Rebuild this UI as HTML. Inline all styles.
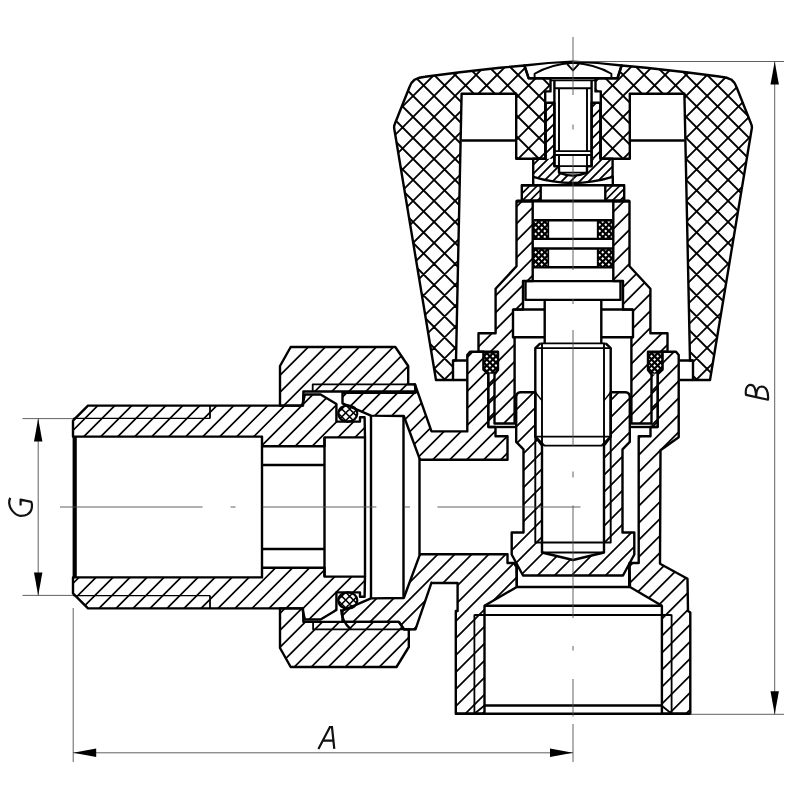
<!DOCTYPE html>
<html><head><meta charset="utf-8"><title>Valve drawing</title>
<style>html,body{margin:0;padding:0;background:#fff;}body{width:800px;height:800px;overflow:hidden;font-family:"Liberation Sans",sans-serif;}svg text{font-family:"Liberation Sans",sans-serif;font-style:italic;}</style></head>
<body>
<svg width="800" height="800" viewBox="0 0 800 800" style="display:block">
<defs>
<clipPath id="c1"><path d="M524.4,65.5 L500,67.8 L460,72.3 L425,76.8 Q419,77.4 414.5,79.8 Q411,82.5 409.5,87 L394.8,124 Q393.7,126.5 394.3,129 L436,380 L453,380 L453,360.5 L456,360.5 L461.6,93.7 L516.2,93.7 L516.2,158.8 L545.2,158.8 L545.2,91.4 L550.5,91.4 L550.5,78.3 L528.7,78.3 Z"/><path d="M524.4,65.5 L500,67.8 L460,72.3 L425,76.8 Q419,77.4 414.5,79.8 Q411,82.5 409.5,87 L394.8,124 Q393.7,126.5 394.3,129 L436,380 L453,380 L453,360.5 L456,360.5 L461.6,93.7 L516.2,93.7 L516.2,158.8 L545.2,158.8 L545.2,91.4 L550.5,91.4 L550.5,78.3 L528.7,78.3 Z" transform="translate(1146.00,0) scale(-1,1)"/></clipPath>
<clipPath id="c2"><path d="M545.7,103.8 L546.7,102.8 L554.4,102.8 L554.4,166.2 L559,166.2 L559,172.6 Q573,178.6 587,172.6 L587,166.2 L591.6,166.2 L591.6,102.8 L599.3,102.8 L600.3,103.8 L600.3,158.8 L612.6,158.8 L612.6,176.9 Q573,189.1 533.2,176.9 L533.2,158.8 L545.7,158.8 Z"/></clipPath>
<clipPath id="c3"><rect x="530.00" y="100.00" width="86.00" height="58.80"/></clipPath>
<clipPath id="c4"><path d="M545.7,103.8 L546.7,102.8 L554.4,102.8 L554.4,166.2 L559,166.2 L559,172.6 Q573,178.6 587,172.6 L587,166.2 L591.6,166.2 L591.6,102.8 L599.3,102.8 L600.3,103.8 L600.3,158.8 L612.6,158.8 L612.6,176.9 Q573,189.1 533.2,176.9 L533.2,158.8 L545.7,158.8 Z"/></clipPath>
<clipPath id="c5"><rect x="530.00" y="158.80" width="86.00" height="31.20"/></clipPath>
<clipPath id="c6"><path d="M521.80,185.20 L540.70,185.20 L540.70,200.80 L521.80,200.80 Z"/><path d="M521.80,185.20 L540.70,185.20 L540.70,200.80 L521.80,200.80 Z" transform="translate(1146.00,0) scale(-1,1)"/></clipPath>
<clipPath id="c7"><path d="M516.50,201.20 L516.50,266.20 L495.60,288.80 L495.60,333.30 L478.50,333.30 L478.50,351.80 L498.00,351.80 L498.00,370.00 L494.50,374.50 L494.50,423.50 L514.60,423.50 L514.60,338.00 L513.00,337.20 L513.00,309.60 L523.00,309.60 L523.00,281.00 L532.70,281.00 L532.70,201.20 Z"/><path d="M516.50,201.20 L516.50,266.20 L495.60,288.80 L495.60,333.30 L478.50,333.30 L478.50,351.80 L498.00,351.80 L498.00,370.00 L494.50,374.50 L494.50,423.50 L514.60,423.50 L514.60,338.00 L513.00,337.20 L513.00,309.60 L523.00,309.60 L523.00,281.00 L532.70,281.00 L532.70,201.20 Z" transform="translate(1146.00,0) scale(-1,1)"/></clipPath>
<clipPath id="c8"><path d="M488.30,374.50 L494.50,374.50 L494.50,427.00 L488.30,427.00 Z"/><path d="M488.30,374.50 L494.50,374.50 L494.50,427.00 L488.30,427.00 Z" transform="translate(1146.00,0) scale(-1,1)"/></clipPath>
<clipPath id="c9"><path d="M488.30,374.50 L494.50,374.50 L494.50,427.00 L488.30,427.00 Z"/><path d="M488.30,374.50 L494.50,374.50 L494.50,427.00 L488.30,427.00 Z" transform="translate(1146.00,0) scale(-1,1)"/></clipPath>
<clipPath id="c10"><path d="M484.2,353.4 L497.0,353.4 L497.0,369.0 L494.2,372.6 L488.6,372.6 L484.2,369.0 Z"/><path d="M484.2,353.4 L497.0,353.4 L497.0,369.0 L494.2,372.6 L488.6,372.6 L484.2,369.0 Z" transform="translate(1146.00,0) scale(-1,1)"/></clipPath>
<clipPath id="c11"><path d="M534.20,221.40 L547.40,221.40 L547.40,237.80 L534.20,237.80 Z"/><path d="M534.20,221.40 L547.40,221.40 L547.40,237.80 L534.20,237.80 Z" transform="translate(1146.00,0) scale(-1,1)"/></clipPath>
<clipPath id="c12"><path d="M534.20,249.80 L547.40,249.80 L547.40,266.20 L534.20,266.20 Z"/><path d="M534.20,249.80 L547.40,249.80 L547.40,266.20 L534.20,266.20 Z" transform="translate(1146.00,0) scale(-1,1)"/></clipPath>
<clipPath id="c13"><path d="M535.3,392.2 L520.5,392.2 Q516.2,392.6 516.2,397 L516.2,441.9 L523.5,449.4 L523.5,532.5 L511.7,532.5 L511.7,554.5 L523,575.5 L623,575.5 L634.3,554.5 L634.3,532.5 L622.5,532.5 L622.5,449.4 L629.8,441.9 L629.8,397 Q629.8,392.6 625.5,392.2 L610.7,392.2 L610.7,436.6 L604,445.6 L604,552.5 L573,560 L542,552.5 L542,445.6 L535.3,436.6 Z"/></clipPath>
<clipPath id="c14"><path d="M342.50,392.70 L415.50,392.70 L415.00,384.40 L431.50,431.40 L467.30,431.40 L467.30,355.00 L470.00,351.80 L483.40,351.80 L483.40,369.50 L488.30,374.00 L488.30,427.00 L495.50,427.00 L495.50,436.20 L507.50,436.20 L507.50,459.80 L420.50,459.80 L419.50,458.40 L403.80,416.00 L371.00,415.60 L342.50,403.30 Z"/></clipPath>
<clipPath id="c15"><path d="M419.50,555.60 L420.50,554.20 L507.50,554.20 L507.50,563.00 L514.00,563.00 L516.50,567.00 L516.80,587.00 L484.50,605.80 L484.50,713.80 L455.80,713.80 L455.80,611.00 L457.60,611.00 L457.60,583.00 L432.00,583.00 L431.50,582.60 L415.50,629.40 L404.10,629.40 L398.90,621.85 L342.50,621.85 L342.50,610.70 L371.00,598.40 L403.80,598.00 Z"/></clipPath>
<clipPath id="c16"><path d="M661.90,713.80 L661.90,605.80 L630.00,587.00 L629.50,563.00 L638.70,563.00 L638.70,436.20 L650.50,436.20 L650.50,427.00 L657.70,427.00 L657.70,374.00 L662.60,369.50 L662.60,351.80 L676.00,351.80 L678.70,355.00 L678.70,437.30 L660.50,450.30 L660.00,563.70 L687.50,578.70 L688.00,611.00 L690.30,612.50 L690.30,713.80 Z"/></clipPath>
<clipPath id="c17"><path d="M280.00,405.60 L280.00,366.00 L290.70,347.00 L395.30,347.00 L408.20,366.00 L408.20,384.40 L415.00,384.40 L415.50,391.50 L303.40,391.50 L303.00,405.60 Z"/></clipPath>
<clipPath id="c18"><path d="M280.00,608.40 L280.00,648.00 L290.70,667.00 L396.50,667.00 L408.80,647.00 L408.80,629.40 L404.10,629.40 L398.90,621.85 L303.40,621.85 L303.00,608.40 Z"/></clipPath>
<clipPath id="c19"><path d="M73.00,420.60 L88.00,405.60 L302.30,405.60 L304.90,394.50 L320.60,394.50 L336.40,404.00 L336.40,421.60 L360.00,421.60 L360.00,417.30 L364.60,417.30 L365.00,437.40 L324.50,437.40 L324.50,446.30 L262.00,446.30 L262.00,436.60 L73.00,436.60 Z"/><path d="M73.00,420.60 L88.00,405.60 L302.30,405.60 L304.90,394.50 L320.60,394.50 L336.40,404.00 L336.40,421.60 L360.00,421.60 L360.00,417.30 L364.60,417.30 L365.00,437.40 L324.50,437.40 L324.50,446.30 L262.00,446.30 L262.00,436.60 L73.00,436.60 Z" transform="translate(0,1014.00) scale(1,-1)"/></clipPath>
<clipPath id="c20"><path d="M338.3,413.5 a9.5,8.2 0 1,0 19,0 a9.5,8.2 0 1,0 -19,0 Z"/><path d="M338.3,413.5 a9.5,8.2 0 1,0 19,0 a9.5,8.2 0 1,0 -19,0 Z" transform="translate(0,1014.00) scale(1,-1)"/></clipPath>
</defs>
<rect width="800" height="800" fill="#fff"/>
<g clip-path="url(#c1)"><path d="M391.00,55.00 L755.00,-309.00 M391.00,76.00 L755.00,-288.00 M391.00,97.00 L755.00,-267.00 M391.00,118.00 L755.00,-246.00 M391.00,139.00 L755.00,-225.00 M391.00,160.00 L755.00,-204.00 M391.00,181.00 L755.00,-183.00 M391.00,202.00 L755.00,-162.00 M391.00,223.00 L755.00,-141.00 M391.00,244.00 L755.00,-120.00 M391.00,265.00 L755.00,-99.00 M391.00,286.00 L755.00,-78.00 M391.00,307.00 L755.00,-57.00 M391.00,328.00 L755.00,-36.00 M391.00,349.00 L755.00,-15.00 M391.00,370.00 L755.00,6.00 M391.00,391.00 L755.00,27.00 M391.00,412.00 L755.00,48.00 M391.00,433.00 L755.00,69.00 M391.00,454.00 L755.00,90.00 M391.00,475.00 L755.00,111.00 M391.00,496.00 L755.00,132.00 M391.00,517.00 L755.00,153.00 M391.00,538.00 L755.00,174.00 M391.00,559.00 L755.00,195.00 M391.00,580.00 L755.00,216.00 M391.00,601.00 L755.00,237.00 M391.00,622.00 L755.00,258.00 M391.00,643.00 L755.00,279.00 M391.00,664.00 L755.00,300.00 M391.00,685.00 L755.00,321.00 M391.00,706.00 L755.00,342.00 M391.00,727.00 L755.00,363.00 M391.00,748.00 L755.00,384.00 M391.00,388.80 L755.00,752.80 M391.00,367.80 L755.00,731.80 M391.00,346.80 L755.00,710.80 M391.00,325.80 L755.00,689.80 M391.00,304.80 L755.00,668.80 M391.00,283.80 L755.00,647.80 M391.00,262.80 L755.00,626.80 M391.00,241.80 L755.00,605.80 M391.00,220.80 L755.00,584.80 M391.00,199.80 L755.00,563.80 M391.00,178.80 L755.00,542.80 M391.00,157.80 L755.00,521.80 M391.00,136.80 L755.00,500.80 M391.00,115.80 L755.00,479.80 M391.00,94.80 L755.00,458.80 M391.00,73.80 L755.00,437.80 M391.00,52.80 L755.00,416.80 M391.00,31.80 L755.00,395.80 M391.00,10.80 L755.00,374.80 M391.00,-10.20 L755.00,353.80 M391.00,-31.20 L755.00,332.80 M391.00,-52.20 L755.00,311.80 M391.00,-73.20 L755.00,290.80 M391.00,-94.20 L755.00,269.80 M391.00,-115.20 L755.00,248.80 M391.00,-136.20 L755.00,227.80 M391.00,-157.20 L755.00,206.80 M391.00,-178.20 L755.00,185.80 M391.00,-199.20 L755.00,164.80 M391.00,-220.20 L755.00,143.80 M391.00,-241.20 L755.00,122.80 M391.00,-262.20 L755.00,101.80 M391.00,-283.20 L755.00,80.80 M391.00,-304.20 L755.00,59.80 M391.00,-325.20 L755.00,38.80" stroke="#000" stroke-width="1.90" fill="none"/></g>
<path d="M524.4,65.5 L500,67.8 L460,72.3 L425,76.8 Q419,77.4 414.5,79.8 Q411,82.5 409.5,87 L394.8,124 Q393.7,126.5 394.3,129 L436,380 L453,380 L453,360.5 L456,360.5 L461.6,93.7 L516.2,93.7 L516.2,158.8 L545.2,158.8 L545.2,91.4 L550.5,91.4 L550.5,78.3 L528.7,78.3 Z" fill="none" stroke="#000" stroke-width="2.40" stroke-linejoin="round"/>
<path d="M524.4,65.5 L500,67.8 L460,72.3 L425,76.8 Q419,77.4 414.5,79.8 Q411,82.5 409.5,87 L394.8,124 Q393.7,126.5 394.3,129 L436,380 L453,380 L453,360.5 L456,360.5 L461.6,93.7 L516.2,93.7 L516.2,158.8 L545.2,158.8 L545.2,91.4 L550.5,91.4 L550.5,78.3 L528.7,78.3 Z" transform="translate(1146.00,0) scale(-1,1)" fill="none" stroke="#000" stroke-width="2.40" stroke-linejoin="round"/>
<path d="M461.4,140.5 L516.2,140.5" fill="none" stroke="#000" stroke-width="2.40" stroke-linejoin="round" />
<path d="M461.4,140.5 L516.2,140.5" transform="translate(1146.00,0) scale(-1,1)" fill="none" stroke="#000" stroke-width="2.40" stroke-linejoin="round" />
<path d="M453,360.5 L466.5,360.5 M453,380 L466.5,380" fill="none" stroke="#000" stroke-width="2.40" stroke-linejoin="round" />
<path d="M453,360.5 L466.5,360.5 M453,380 L466.5,380" transform="translate(1146.00,0) scale(-1,1)" fill="none" stroke="#000" stroke-width="2.40" stroke-linejoin="round" />
<path d="M524.4,65.5 Q548,62.4 573,61.6 Q598,62.4 621.6,65.5 L617.7,78.3 L528.7,78.3 Z" fill="none" stroke="#000" stroke-width="2.40" stroke-linejoin="round" />
<path d="M534.6,78.2 L534.6,73.8 Q551,64.2 573,62.8 Q595,64.2 611.4,73.8 L611.4,78.2" fill="none" stroke="#000" stroke-width="1.90" stroke-linejoin="round" />
<path d="M567.2,64.2 L573,70.4 L578.8,64.2" fill="none" stroke="#000" stroke-width="1.90" stroke-linejoin="round" />
<path d="M550.6,80.4 L595.4,80.4" fill="none" stroke="#000" stroke-width="1.50" stroke-linejoin="round" />
<path d="M554.4,80.4 L554.4,166.2 M591.6,80.4 L591.6,166.2" fill="none" stroke="#000" stroke-width="2.40" stroke-linejoin="round" />
<path d="M554.4,88.3 L591.6,88.3 M559,88.3 L559,151 M587,88.3 L587,151" fill="none" stroke="#000" stroke-width="1.90" stroke-linejoin="round" />
<path d="M554.4,151.2 L591.6,151.2 M554.4,155 L591.6,155 M554.4,166.2 L591.6,166.2" fill="none" stroke="#000" stroke-width="1.80" stroke-linejoin="round" />
<path d="M559,155 L559,172.6 L587,172.6 L587,155" fill="none" stroke="#000" stroke-width="1.90" stroke-linejoin="round" />
<g clip-path="url(#c3)"><g clip-path="url(#c2)"><path d="M531.00,94.50 L615.00,10.50 M531.00,105.00 L615.00,21.00 M531.00,115.50 L615.00,31.50 M531.00,126.00 L615.00,42.00 M531.00,136.50 L615.00,52.50 M531.00,147.00 L615.00,63.00 M531.00,157.50 L615.00,73.50 M531.00,168.00 L615.00,84.00 M531.00,178.50 L615.00,94.50 M531.00,189.00 L615.00,105.00 M531.00,199.50 L615.00,115.50 M531.00,210.00 L615.00,126.00 M531.00,220.50 L615.00,136.50 M531.00,231.00 L615.00,147.00 M531.00,241.50 L615.00,157.50 M531.00,252.00 L615.00,168.00 M531.00,262.50 L615.00,178.50 M531.00,273.00 L615.00,189.00" stroke="#000" stroke-width="1.80" fill="none"/></g></g>
<g clip-path="url(#c5)"><g clip-path="url(#c4)"><path d="M531.00,95.00 L615.00,11.00 M531.00,104.00 L615.00,20.00 M531.00,113.00 L615.00,29.00 M531.00,122.00 L615.00,38.00 M531.00,131.00 L615.00,47.00 M531.00,140.00 L615.00,56.00 M531.00,149.00 L615.00,65.00 M531.00,158.00 L615.00,74.00 M531.00,167.00 L615.00,83.00 M531.00,176.00 L615.00,92.00 M531.00,185.00 L615.00,101.00 M531.00,194.00 L615.00,110.00 M531.00,203.00 L615.00,119.00 M531.00,212.00 L615.00,128.00 M531.00,221.00 L615.00,137.00 M531.00,230.00 L615.00,146.00 M531.00,239.00 L615.00,155.00 M531.00,248.00 L615.00,164.00 M531.00,257.00 L615.00,173.00 M531.00,266.00 L615.00,182.00 M531.00,275.00 L615.00,191.00" stroke="#000" stroke-width="1.80" fill="none"/></g></g>
<path d="M545.7,103.8 L546.7,102.8 L554.4,102.8 L554.4,166.2 L559,166.2 L559,172.6 Q573,178.6 587,172.6 L587,166.2 L591.6,166.2 L591.6,102.8 L599.3,102.8 L600.3,103.8 L600.3,158.8 L612.6,158.8 L612.6,176.9 Q573,189.1 533.2,176.9 L533.2,158.8 L545.7,158.8 Z" fill="none" stroke="#000" stroke-width="2.40" stroke-linejoin="round" />
<g clip-path="url(#c6)"><path d="M519.00,181.50 L627.00,73.50 M519.00,189.00 L627.00,81.00 M519.00,196.50 L627.00,88.50 M519.00,204.00 L627.00,96.00 M519.00,211.50 L627.00,103.50 M519.00,219.00 L627.00,111.00 M519.00,226.50 L627.00,118.50 M519.00,234.00 L627.00,126.00 M519.00,241.50 L627.00,133.50 M519.00,249.00 L627.00,141.00 M519.00,256.50 L627.00,148.50 M519.00,264.00 L627.00,156.00 M519.00,271.50 L627.00,163.50 M519.00,279.00 L627.00,171.00 M519.00,286.50 L627.00,178.50 M519.00,294.00 L627.00,186.00 M519.00,301.50 L627.00,193.50 M519.00,309.00 L627.00,201.00 M519.00,316.50 L627.00,208.50" stroke="#000" stroke-width="1.60" fill="none"/></g>
<path d="M521.80,185.20 L540.70,185.20 L540.70,200.80 L521.80,200.80 Z" fill="none" stroke="#000" stroke-width="2.40" stroke-linejoin="round"/>
<path d="M521.80,185.20 L540.70,185.20 L540.70,200.80 L521.80,200.80 Z" transform="translate(1146.00,0) scale(-1,1)" fill="none" stroke="#000" stroke-width="2.40" stroke-linejoin="round"/>
<path d="M521.8,185.2 L624.2,185.2 M533.2,176 L533.2,185.2 M612.8,176 L612.8,185.2" fill="none" stroke="#000" stroke-width="2.40" stroke-linejoin="round" />
<g clip-path="url(#c7)"><path d="M476.00,196.20 L670.00,2.20 M476.00,213.20 L670.00,19.20 M476.00,230.20 L670.00,36.20 M476.00,247.20 L670.00,53.20 M476.00,264.20 L670.00,70.20 M476.00,281.20 L670.00,87.20 M476.00,298.20 L670.00,104.20 M476.00,315.20 L670.00,121.20 M476.00,332.20 L670.00,138.20 M476.00,349.20 L670.00,155.20 M476.00,366.20 L670.00,172.20 M476.00,383.20 L670.00,189.20 M476.00,400.20 L670.00,206.20 M476.00,417.20 L670.00,223.20 M476.00,434.20 L670.00,240.20 M476.00,451.20 L670.00,257.20 M476.00,468.20 L670.00,274.20 M476.00,485.20 L670.00,291.20 M476.00,502.20 L670.00,308.20 M476.00,519.20 L670.00,325.20 M476.00,536.20 L670.00,342.20 M476.00,553.20 L670.00,359.20 M476.00,570.20 L670.00,376.20 M476.00,587.20 L670.00,393.20 M476.00,604.20 L670.00,410.20 M476.00,621.20 L670.00,427.20" stroke="#000" stroke-width="1.70" fill="none"/></g>
<path d="M516.50,201.20 L516.50,266.20 L495.60,288.80 L495.60,333.30 L478.50,333.30 L478.50,351.80 L498.00,351.80 L498.00,370.00 L494.50,374.50 L494.50,423.50 L514.60,423.50 L514.60,338.00 L513.00,337.20 L513.00,309.60 L523.00,309.60 L523.00,281.00 L532.70,281.00 L532.70,201.20 Z" fill="none" stroke="#000" stroke-width="2.40" stroke-linejoin="round"/>
<path d="M516.50,201.20 L516.50,266.20 L495.60,288.80 L495.60,333.30 L478.50,333.30 L478.50,351.80 L498.00,351.80 L498.00,370.00 L494.50,374.50 L494.50,423.50 L514.60,423.50 L514.60,338.00 L513.00,337.20 L513.00,309.60 L523.00,309.60 L523.00,281.00 L532.70,281.00 L532.70,201.20 Z" transform="translate(1146.00,0) scale(-1,1)" fill="none" stroke="#000" stroke-width="2.40" stroke-linejoin="round"/>
<path d="M516.5,201.0 L629.5,201.0" fill="none" stroke="#000" stroke-width="2.80" stroke-linejoin="round" />
<path d="M534,220.2 L612,220.2 M532.7,238.9 L613.3,238.9 M532.7,248.5 L613.3,248.5 M532.7,267.3 L613.3,267.3" fill="none" stroke="#000" stroke-width="2.40" stroke-linejoin="round" />
<path d="M548.4,220.2 L548.4,238.9 M548.4,248.5 L548.4,267.3" fill="none" stroke="#000" stroke-width="1.50" stroke-linejoin="round" />
<path d="M548.4,220.2 L548.4,238.9 M548.4,248.5 L548.4,267.3" transform="translate(1146.00,0) scale(-1,1)" fill="none" stroke="#000" stroke-width="1.50" stroke-linejoin="round" />
<path d="M525.50,281.10 L620.50,281.10 L620.50,299.90 L525.50,299.90 Z" fill="none" stroke="#000" stroke-width="2.40" stroke-linejoin="round" />
<path d="M544.7,299.8 L544.7,343.4 M513,309.5 L544.7,309.5 M513,337.2 L544.7,337.2" fill="none" stroke="#000" stroke-width="2.40" stroke-linejoin="round" />
<path d="M544.7,299.8 L544.7,343.4 M513,309.5 L544.7,309.5 M513,337.2 L544.7,337.2" transform="translate(1146.00,0) scale(-1,1)" fill="none" stroke="#000" stroke-width="2.40" stroke-linejoin="round" />
<path d="M540.3,343.4 L605.7,343.4 M535.3,348.1 L610.7,348.1 M535.3,436.6 L610.7,436.6 M544,445.6 L602,445.6" fill="none" stroke="#000" stroke-width="1.90" stroke-linejoin="round" />
<path d="M540.3,343.4 L535.3,348.1 L535.3,436.6 L544,445.6" fill="none" stroke="#000" stroke-width="2.40" stroke-linejoin="round" />
<path d="M540.3,343.4 L535.3,348.1 L535.3,436.6 L544,445.6" transform="translate(1146.00,0) scale(-1,1)" fill="none" stroke="#000" stroke-width="2.40" stroke-linejoin="round" />
<path d="M542,344 L542,543" fill="none" stroke="#000" stroke-width="1.90" stroke-linejoin="round" />
<path d="M542,344 L542,543" transform="translate(1146.00,0) scale(-1,1)" fill="none" stroke="#000" stroke-width="1.90" stroke-linejoin="round" />
<path d="M535.3,392.2 L542,400.6" fill="none" stroke="#000" stroke-width="1.50" stroke-linejoin="round" />
<path d="M535.3,392.2 L542,400.6" transform="translate(1146.00,0) scale(-1,1)" fill="none" stroke="#000" stroke-width="1.50" stroke-linejoin="round" />
<path d="M488.3,427 L516,427" fill="none" stroke="#000" stroke-width="2.40" stroke-linejoin="round" />
<path d="M488.3,427 L516,427" transform="translate(1146.00,0) scale(-1,1)" fill="none" stroke="#000" stroke-width="2.40" stroke-linejoin="round" />
<g clip-path="url(#c8)"><path d="M486.00,355.20 L660.00,181.20 M486.00,372.20 L660.00,198.20 M486.00,389.20 L660.00,215.20 M486.00,406.20 L660.00,232.20 M486.00,423.20 L660.00,249.20 M486.00,440.20 L660.00,266.20 M486.00,457.20 L660.00,283.20 M486.00,474.20 L660.00,300.20 M486.00,491.20 L660.00,317.20 M486.00,508.20 L660.00,334.20 M486.00,525.20 L660.00,351.20 M486.00,542.20 L660.00,368.20 M486.00,559.20 L660.00,385.20 M486.00,576.20 L660.00,402.20 M486.00,593.20 L660.00,419.20 M486.00,610.20 L660.00,436.20" stroke="#000" stroke-width="1.70" fill="none"/></g>
<g clip-path="url(#c9)"><path d="M486.00,370.00 L660.00,196.00 M486.00,387.00 L660.00,213.00 M486.00,404.00 L660.00,230.00 M486.00,421.00 L660.00,247.00 M486.00,438.00 L660.00,264.00 M486.00,455.00 L660.00,281.00 M486.00,472.00 L660.00,298.00 M486.00,489.00 L660.00,315.00 M486.00,506.00 L660.00,332.00 M486.00,523.00 L660.00,349.00 M486.00,540.00 L660.00,366.00 M486.00,557.00 L660.00,383.00 M486.00,574.00 L660.00,400.00 M486.00,591.00 L660.00,417.00 M486.00,608.00 L660.00,434.00" stroke="#000" stroke-width="1.70" fill="none"/></g>
<path d="M488.3,374 L488.3,427" fill="none" stroke="#000" stroke-width="2.00" stroke-linejoin="round" />
<path d="M488.3,374 L488.3,427" transform="translate(1146.00,0) scale(-1,1)" fill="none" stroke="#000" stroke-width="2.00" stroke-linejoin="round" />
<path d="M484.2,353.4 L497.0,353.4 L497.0,369.0 L494.2,372.6 L488.6,372.6 L484.2,369.0 Z" fill="#000" stroke="#000" stroke-width="2.4" stroke-linejoin="round"/>
<path d="M484.2,353.4 L497.0,353.4 L497.0,369.0 L494.2,372.6 L488.6,372.6 L484.2,369.0 Z" transform="translate(1146.00,0) scale(-1,1)" fill="#000" stroke="#000" stroke-width="2.4" stroke-linejoin="round"/>
<g fill="#fff" clip-path="url(#c10)"><path d="M476.17,347.16 l1.50,-1.50 l1.50,1.50 l-1.50,1.50 Z M482.27,347.16 l1.50,-1.50 l1.50,1.50 l-1.50,1.50 Z M488.37,347.16 l1.50,-1.50 l1.50,1.50 l-1.50,1.50 Z M494.47,347.16 l1.50,-1.50 l1.50,1.50 l-1.50,1.50 Z M473.12,350.22 l1.50,-1.50 l1.50,1.50 l-1.50,1.50 Z M479.22,350.22 l1.50,-1.50 l1.50,1.50 l-1.50,1.50 Z M485.32,350.22 l1.50,-1.50 l1.50,1.50 l-1.50,1.50 Z M491.42,350.22 l1.50,-1.50 l1.50,1.50 l-1.50,1.50 Z M497.52,350.22 l1.50,-1.50 l1.50,1.50 l-1.50,1.50 Z M476.17,353.28 l1.50,-1.50 l1.50,1.50 l-1.50,1.50 Z M482.27,353.28 l1.50,-1.50 l1.50,1.50 l-1.50,1.50 Z M488.37,353.28 l1.50,-1.50 l1.50,1.50 l-1.50,1.50 Z M494.47,353.28 l1.50,-1.50 l1.50,1.50 l-1.50,1.50 Z M473.12,356.34 l1.50,-1.50 l1.50,1.50 l-1.50,1.50 Z M479.22,356.34 l1.50,-1.50 l1.50,1.50 l-1.50,1.50 Z M485.32,356.34 l1.50,-1.50 l1.50,1.50 l-1.50,1.50 Z M491.42,356.34 l1.50,-1.50 l1.50,1.50 l-1.50,1.50 Z M497.52,356.34 l1.50,-1.50 l1.50,1.50 l-1.50,1.50 Z M476.17,359.40 l1.50,-1.50 l1.50,1.50 l-1.50,1.50 Z M482.27,359.40 l1.50,-1.50 l1.50,1.50 l-1.50,1.50 Z M488.37,359.40 l1.50,-1.50 l1.50,1.50 l-1.50,1.50 Z M494.47,359.40 l1.50,-1.50 l1.50,1.50 l-1.50,1.50 Z M473.12,362.46 l1.50,-1.50 l1.50,1.50 l-1.50,1.50 Z M479.22,362.46 l1.50,-1.50 l1.50,1.50 l-1.50,1.50 Z M485.32,362.46 l1.50,-1.50 l1.50,1.50 l-1.50,1.50 Z M491.42,362.46 l1.50,-1.50 l1.50,1.50 l-1.50,1.50 Z M497.52,362.46 l1.50,-1.50 l1.50,1.50 l-1.50,1.50 Z M476.17,365.52 l1.50,-1.50 l1.50,1.50 l-1.50,1.50 Z M482.27,365.52 l1.50,-1.50 l1.50,1.50 l-1.50,1.50 Z M488.37,365.52 l1.50,-1.50 l1.50,1.50 l-1.50,1.50 Z M494.47,365.52 l1.50,-1.50 l1.50,1.50 l-1.50,1.50 Z M473.12,368.58 l1.50,-1.50 l1.50,1.50 l-1.50,1.50 Z M479.22,368.58 l1.50,-1.50 l1.50,1.50 l-1.50,1.50 Z M485.32,368.58 l1.50,-1.50 l1.50,1.50 l-1.50,1.50 Z M491.42,368.58 l1.50,-1.50 l1.50,1.50 l-1.50,1.50 Z M497.52,368.58 l1.50,-1.50 l1.50,1.50 l-1.50,1.50 Z M476.17,371.64 l1.50,-1.50 l1.50,1.50 l-1.50,1.50 Z M482.27,371.64 l1.50,-1.50 l1.50,1.50 l-1.50,1.50 Z M488.37,371.64 l1.50,-1.50 l1.50,1.50 l-1.50,1.50 Z M494.47,371.64 l1.50,-1.50 l1.50,1.50 l-1.50,1.50 Z M473.12,374.70 l1.50,-1.50 l1.50,1.50 l-1.50,1.50 Z M479.22,374.70 l1.50,-1.50 l1.50,1.50 l-1.50,1.50 Z M485.32,374.70 l1.50,-1.50 l1.50,1.50 l-1.50,1.50 Z M491.42,374.70 l1.50,-1.50 l1.50,1.50 l-1.50,1.50 Z M497.52,374.70 l1.50,-1.50 l1.50,1.50 l-1.50,1.50 Z M640.87,347.16 l1.50,-1.50 l1.50,1.50 l-1.50,1.50 Z M646.97,347.16 l1.50,-1.50 l1.50,1.50 l-1.50,1.50 Z M653.07,347.16 l1.50,-1.50 l1.50,1.50 l-1.50,1.50 Z M659.17,347.16 l1.50,-1.50 l1.50,1.50 l-1.50,1.50 Z M637.82,350.22 l1.50,-1.50 l1.50,1.50 l-1.50,1.50 Z M643.92,350.22 l1.50,-1.50 l1.50,1.50 l-1.50,1.50 Z M650.02,350.22 l1.50,-1.50 l1.50,1.50 l-1.50,1.50 Z M656.12,350.22 l1.50,-1.50 l1.50,1.50 l-1.50,1.50 Z M662.22,350.22 l1.50,-1.50 l1.50,1.50 l-1.50,1.50 Z M640.87,353.28 l1.50,-1.50 l1.50,1.50 l-1.50,1.50 Z M646.97,353.28 l1.50,-1.50 l1.50,1.50 l-1.50,1.50 Z M653.07,353.28 l1.50,-1.50 l1.50,1.50 l-1.50,1.50 Z M659.17,353.28 l1.50,-1.50 l1.50,1.50 l-1.50,1.50 Z M637.82,356.34 l1.50,-1.50 l1.50,1.50 l-1.50,1.50 Z M643.92,356.34 l1.50,-1.50 l1.50,1.50 l-1.50,1.50 Z M650.02,356.34 l1.50,-1.50 l1.50,1.50 l-1.50,1.50 Z M656.12,356.34 l1.50,-1.50 l1.50,1.50 l-1.50,1.50 Z M662.22,356.34 l1.50,-1.50 l1.50,1.50 l-1.50,1.50 Z M640.87,359.40 l1.50,-1.50 l1.50,1.50 l-1.50,1.50 Z M646.97,359.40 l1.50,-1.50 l1.50,1.50 l-1.50,1.50 Z M653.07,359.40 l1.50,-1.50 l1.50,1.50 l-1.50,1.50 Z M659.17,359.40 l1.50,-1.50 l1.50,1.50 l-1.50,1.50 Z M637.82,362.46 l1.50,-1.50 l1.50,1.50 l-1.50,1.50 Z M643.92,362.46 l1.50,-1.50 l1.50,1.50 l-1.50,1.50 Z M650.02,362.46 l1.50,-1.50 l1.50,1.50 l-1.50,1.50 Z M656.12,362.46 l1.50,-1.50 l1.50,1.50 l-1.50,1.50 Z M662.22,362.46 l1.50,-1.50 l1.50,1.50 l-1.50,1.50 Z M640.87,365.52 l1.50,-1.50 l1.50,1.50 l-1.50,1.50 Z M646.97,365.52 l1.50,-1.50 l1.50,1.50 l-1.50,1.50 Z M653.07,365.52 l1.50,-1.50 l1.50,1.50 l-1.50,1.50 Z M659.17,365.52 l1.50,-1.50 l1.50,1.50 l-1.50,1.50 Z M637.82,368.58 l1.50,-1.50 l1.50,1.50 l-1.50,1.50 Z M643.92,368.58 l1.50,-1.50 l1.50,1.50 l-1.50,1.50 Z M650.02,368.58 l1.50,-1.50 l1.50,1.50 l-1.50,1.50 Z M656.12,368.58 l1.50,-1.50 l1.50,1.50 l-1.50,1.50 Z M662.22,368.58 l1.50,-1.50 l1.50,1.50 l-1.50,1.50 Z M640.87,371.64 l1.50,-1.50 l1.50,1.50 l-1.50,1.50 Z M646.97,371.64 l1.50,-1.50 l1.50,1.50 l-1.50,1.50 Z M653.07,371.64 l1.50,-1.50 l1.50,1.50 l-1.50,1.50 Z M659.17,371.64 l1.50,-1.50 l1.50,1.50 l-1.50,1.50 Z M637.82,374.70 l1.50,-1.50 l1.50,1.50 l-1.50,1.50 Z M643.92,374.70 l1.50,-1.50 l1.50,1.50 l-1.50,1.50 Z M650.02,374.70 l1.50,-1.50 l1.50,1.50 l-1.50,1.50 Z M656.12,374.70 l1.50,-1.50 l1.50,1.50 l-1.50,1.50 Z M662.22,374.70 l1.50,-1.50 l1.50,1.50 l-1.50,1.50 Z"/></g>
<path d="M534.20,221.40 L547.40,221.40 L547.40,237.80 L534.20,237.80 Z" fill="#000" stroke="#000" stroke-width="2.4" stroke-linejoin="round"/>
<path d="M534.20,221.40 L547.40,221.40 L547.40,237.80 L534.20,237.80 Z" transform="translate(1146.00,0) scale(-1,1)" fill="#000" stroke="#000" stroke-width="2.4" stroke-linejoin="round"/>
<g fill="#fff" clip-path="url(#c11)"><path d="M521.92,215.58 l1.50,-1.50 l1.50,1.50 l-1.50,1.50 Z M528.02,215.58 l1.50,-1.50 l1.50,1.50 l-1.50,1.50 Z M534.12,215.58 l1.50,-1.50 l1.50,1.50 l-1.50,1.50 Z M540.22,215.58 l1.50,-1.50 l1.50,1.50 l-1.50,1.50 Z M546.32,215.58 l1.50,-1.50 l1.50,1.50 l-1.50,1.50 Z M524.97,218.64 l1.50,-1.50 l1.50,1.50 l-1.50,1.50 Z M531.07,218.64 l1.50,-1.50 l1.50,1.50 l-1.50,1.50 Z M537.17,218.64 l1.50,-1.50 l1.50,1.50 l-1.50,1.50 Z M543.27,218.64 l1.50,-1.50 l1.50,1.50 l-1.50,1.50 Z M521.92,221.70 l1.50,-1.50 l1.50,1.50 l-1.50,1.50 Z M528.02,221.70 l1.50,-1.50 l1.50,1.50 l-1.50,1.50 Z M534.12,221.70 l1.50,-1.50 l1.50,1.50 l-1.50,1.50 Z M540.22,221.70 l1.50,-1.50 l1.50,1.50 l-1.50,1.50 Z M546.32,221.70 l1.50,-1.50 l1.50,1.50 l-1.50,1.50 Z M524.97,224.76 l1.50,-1.50 l1.50,1.50 l-1.50,1.50 Z M531.07,224.76 l1.50,-1.50 l1.50,1.50 l-1.50,1.50 Z M537.17,224.76 l1.50,-1.50 l1.50,1.50 l-1.50,1.50 Z M543.27,224.76 l1.50,-1.50 l1.50,1.50 l-1.50,1.50 Z M521.92,227.82 l1.50,-1.50 l1.50,1.50 l-1.50,1.50 Z M528.02,227.82 l1.50,-1.50 l1.50,1.50 l-1.50,1.50 Z M534.12,227.82 l1.50,-1.50 l1.50,1.50 l-1.50,1.50 Z M540.22,227.82 l1.50,-1.50 l1.50,1.50 l-1.50,1.50 Z M546.32,227.82 l1.50,-1.50 l1.50,1.50 l-1.50,1.50 Z M524.97,230.88 l1.50,-1.50 l1.50,1.50 l-1.50,1.50 Z M531.07,230.88 l1.50,-1.50 l1.50,1.50 l-1.50,1.50 Z M537.17,230.88 l1.50,-1.50 l1.50,1.50 l-1.50,1.50 Z M543.27,230.88 l1.50,-1.50 l1.50,1.50 l-1.50,1.50 Z M521.92,233.94 l1.50,-1.50 l1.50,1.50 l-1.50,1.50 Z M528.02,233.94 l1.50,-1.50 l1.50,1.50 l-1.50,1.50 Z M534.12,233.94 l1.50,-1.50 l1.50,1.50 l-1.50,1.50 Z M540.22,233.94 l1.50,-1.50 l1.50,1.50 l-1.50,1.50 Z M546.32,233.94 l1.50,-1.50 l1.50,1.50 l-1.50,1.50 Z M524.97,237.00 l1.50,-1.50 l1.50,1.50 l-1.50,1.50 Z M531.07,237.00 l1.50,-1.50 l1.50,1.50 l-1.50,1.50 Z M537.17,237.00 l1.50,-1.50 l1.50,1.50 l-1.50,1.50 Z M543.27,237.00 l1.50,-1.50 l1.50,1.50 l-1.50,1.50 Z M589.02,215.58 l1.50,-1.50 l1.50,1.50 l-1.50,1.50 Z M595.12,215.58 l1.50,-1.50 l1.50,1.50 l-1.50,1.50 Z M601.22,215.58 l1.50,-1.50 l1.50,1.50 l-1.50,1.50 Z M607.32,215.58 l1.50,-1.50 l1.50,1.50 l-1.50,1.50 Z M585.97,218.64 l1.50,-1.50 l1.50,1.50 l-1.50,1.50 Z M592.07,218.64 l1.50,-1.50 l1.50,1.50 l-1.50,1.50 Z M598.17,218.64 l1.50,-1.50 l1.50,1.50 l-1.50,1.50 Z M604.27,218.64 l1.50,-1.50 l1.50,1.50 l-1.50,1.50 Z M610.37,218.64 l1.50,-1.50 l1.50,1.50 l-1.50,1.50 Z M589.02,221.70 l1.50,-1.50 l1.50,1.50 l-1.50,1.50 Z M595.12,221.70 l1.50,-1.50 l1.50,1.50 l-1.50,1.50 Z M601.22,221.70 l1.50,-1.50 l1.50,1.50 l-1.50,1.50 Z M607.32,221.70 l1.50,-1.50 l1.50,1.50 l-1.50,1.50 Z M585.97,224.76 l1.50,-1.50 l1.50,1.50 l-1.50,1.50 Z M592.07,224.76 l1.50,-1.50 l1.50,1.50 l-1.50,1.50 Z M598.17,224.76 l1.50,-1.50 l1.50,1.50 l-1.50,1.50 Z M604.27,224.76 l1.50,-1.50 l1.50,1.50 l-1.50,1.50 Z M610.37,224.76 l1.50,-1.50 l1.50,1.50 l-1.50,1.50 Z M589.02,227.82 l1.50,-1.50 l1.50,1.50 l-1.50,1.50 Z M595.12,227.82 l1.50,-1.50 l1.50,1.50 l-1.50,1.50 Z M601.22,227.82 l1.50,-1.50 l1.50,1.50 l-1.50,1.50 Z M607.32,227.82 l1.50,-1.50 l1.50,1.50 l-1.50,1.50 Z M585.97,230.88 l1.50,-1.50 l1.50,1.50 l-1.50,1.50 Z M592.07,230.88 l1.50,-1.50 l1.50,1.50 l-1.50,1.50 Z M598.17,230.88 l1.50,-1.50 l1.50,1.50 l-1.50,1.50 Z M604.27,230.88 l1.50,-1.50 l1.50,1.50 l-1.50,1.50 Z M610.37,230.88 l1.50,-1.50 l1.50,1.50 l-1.50,1.50 Z M589.02,233.94 l1.50,-1.50 l1.50,1.50 l-1.50,1.50 Z M595.12,233.94 l1.50,-1.50 l1.50,1.50 l-1.50,1.50 Z M601.22,233.94 l1.50,-1.50 l1.50,1.50 l-1.50,1.50 Z M607.32,233.94 l1.50,-1.50 l1.50,1.50 l-1.50,1.50 Z M585.97,237.00 l1.50,-1.50 l1.50,1.50 l-1.50,1.50 Z M592.07,237.00 l1.50,-1.50 l1.50,1.50 l-1.50,1.50 Z M598.17,237.00 l1.50,-1.50 l1.50,1.50 l-1.50,1.50 Z M604.27,237.00 l1.50,-1.50 l1.50,1.50 l-1.50,1.50 Z M610.37,237.00 l1.50,-1.50 l1.50,1.50 l-1.50,1.50 Z"/></g>
<path d="M534.20,249.80 L547.40,249.80 L547.40,266.20 L534.20,266.20 Z" fill="#000" stroke="#000" stroke-width="2.4" stroke-linejoin="round"/>
<path d="M534.20,249.80 L547.40,249.80 L547.40,266.20 L534.20,266.20 Z" transform="translate(1146.00,0) scale(-1,1)" fill="#000" stroke="#000" stroke-width="2.4" stroke-linejoin="round"/>
<g fill="#fff" clip-path="url(#c12)"><path d="M521.92,246.18 l1.50,-1.50 l1.50,1.50 l-1.50,1.50 Z M528.02,246.18 l1.50,-1.50 l1.50,1.50 l-1.50,1.50 Z M534.12,246.18 l1.50,-1.50 l1.50,1.50 l-1.50,1.50 Z M540.22,246.18 l1.50,-1.50 l1.50,1.50 l-1.50,1.50 Z M546.32,246.18 l1.50,-1.50 l1.50,1.50 l-1.50,1.50 Z M524.97,249.24 l1.50,-1.50 l1.50,1.50 l-1.50,1.50 Z M531.07,249.24 l1.50,-1.50 l1.50,1.50 l-1.50,1.50 Z M537.17,249.24 l1.50,-1.50 l1.50,1.50 l-1.50,1.50 Z M543.27,249.24 l1.50,-1.50 l1.50,1.50 l-1.50,1.50 Z M521.92,252.30 l1.50,-1.50 l1.50,1.50 l-1.50,1.50 Z M528.02,252.30 l1.50,-1.50 l1.50,1.50 l-1.50,1.50 Z M534.12,252.30 l1.50,-1.50 l1.50,1.50 l-1.50,1.50 Z M540.22,252.30 l1.50,-1.50 l1.50,1.50 l-1.50,1.50 Z M546.32,252.30 l1.50,-1.50 l1.50,1.50 l-1.50,1.50 Z M524.97,255.36 l1.50,-1.50 l1.50,1.50 l-1.50,1.50 Z M531.07,255.36 l1.50,-1.50 l1.50,1.50 l-1.50,1.50 Z M537.17,255.36 l1.50,-1.50 l1.50,1.50 l-1.50,1.50 Z M543.27,255.36 l1.50,-1.50 l1.50,1.50 l-1.50,1.50 Z M521.92,258.42 l1.50,-1.50 l1.50,1.50 l-1.50,1.50 Z M528.02,258.42 l1.50,-1.50 l1.50,1.50 l-1.50,1.50 Z M534.12,258.42 l1.50,-1.50 l1.50,1.50 l-1.50,1.50 Z M540.22,258.42 l1.50,-1.50 l1.50,1.50 l-1.50,1.50 Z M546.32,258.42 l1.50,-1.50 l1.50,1.50 l-1.50,1.50 Z M524.97,261.48 l1.50,-1.50 l1.50,1.50 l-1.50,1.50 Z M531.07,261.48 l1.50,-1.50 l1.50,1.50 l-1.50,1.50 Z M537.17,261.48 l1.50,-1.50 l1.50,1.50 l-1.50,1.50 Z M543.27,261.48 l1.50,-1.50 l1.50,1.50 l-1.50,1.50 Z M521.92,264.54 l1.50,-1.50 l1.50,1.50 l-1.50,1.50 Z M528.02,264.54 l1.50,-1.50 l1.50,1.50 l-1.50,1.50 Z M534.12,264.54 l1.50,-1.50 l1.50,1.50 l-1.50,1.50 Z M540.22,264.54 l1.50,-1.50 l1.50,1.50 l-1.50,1.50 Z M546.32,264.54 l1.50,-1.50 l1.50,1.50 l-1.50,1.50 Z M524.97,267.60 l1.50,-1.50 l1.50,1.50 l-1.50,1.50 Z M531.07,267.60 l1.50,-1.50 l1.50,1.50 l-1.50,1.50 Z M537.17,267.60 l1.50,-1.50 l1.50,1.50 l-1.50,1.50 Z M543.27,267.60 l1.50,-1.50 l1.50,1.50 l-1.50,1.50 Z M589.02,246.18 l1.50,-1.50 l1.50,1.50 l-1.50,1.50 Z M595.12,246.18 l1.50,-1.50 l1.50,1.50 l-1.50,1.50 Z M601.22,246.18 l1.50,-1.50 l1.50,1.50 l-1.50,1.50 Z M607.32,246.18 l1.50,-1.50 l1.50,1.50 l-1.50,1.50 Z M585.97,249.24 l1.50,-1.50 l1.50,1.50 l-1.50,1.50 Z M592.07,249.24 l1.50,-1.50 l1.50,1.50 l-1.50,1.50 Z M598.17,249.24 l1.50,-1.50 l1.50,1.50 l-1.50,1.50 Z M604.27,249.24 l1.50,-1.50 l1.50,1.50 l-1.50,1.50 Z M610.37,249.24 l1.50,-1.50 l1.50,1.50 l-1.50,1.50 Z M589.02,252.30 l1.50,-1.50 l1.50,1.50 l-1.50,1.50 Z M595.12,252.30 l1.50,-1.50 l1.50,1.50 l-1.50,1.50 Z M601.22,252.30 l1.50,-1.50 l1.50,1.50 l-1.50,1.50 Z M607.32,252.30 l1.50,-1.50 l1.50,1.50 l-1.50,1.50 Z M585.97,255.36 l1.50,-1.50 l1.50,1.50 l-1.50,1.50 Z M592.07,255.36 l1.50,-1.50 l1.50,1.50 l-1.50,1.50 Z M598.17,255.36 l1.50,-1.50 l1.50,1.50 l-1.50,1.50 Z M604.27,255.36 l1.50,-1.50 l1.50,1.50 l-1.50,1.50 Z M610.37,255.36 l1.50,-1.50 l1.50,1.50 l-1.50,1.50 Z M589.02,258.42 l1.50,-1.50 l1.50,1.50 l-1.50,1.50 Z M595.12,258.42 l1.50,-1.50 l1.50,1.50 l-1.50,1.50 Z M601.22,258.42 l1.50,-1.50 l1.50,1.50 l-1.50,1.50 Z M607.32,258.42 l1.50,-1.50 l1.50,1.50 l-1.50,1.50 Z M585.97,261.48 l1.50,-1.50 l1.50,1.50 l-1.50,1.50 Z M592.07,261.48 l1.50,-1.50 l1.50,1.50 l-1.50,1.50 Z M598.17,261.48 l1.50,-1.50 l1.50,1.50 l-1.50,1.50 Z M604.27,261.48 l1.50,-1.50 l1.50,1.50 l-1.50,1.50 Z M610.37,261.48 l1.50,-1.50 l1.50,1.50 l-1.50,1.50 Z M589.02,264.54 l1.50,-1.50 l1.50,1.50 l-1.50,1.50 Z M595.12,264.54 l1.50,-1.50 l1.50,1.50 l-1.50,1.50 Z M601.22,264.54 l1.50,-1.50 l1.50,1.50 l-1.50,1.50 Z M607.32,264.54 l1.50,-1.50 l1.50,1.50 l-1.50,1.50 Z M585.97,267.60 l1.50,-1.50 l1.50,1.50 l-1.50,1.50 Z M592.07,267.60 l1.50,-1.50 l1.50,1.50 l-1.50,1.50 Z M598.17,267.60 l1.50,-1.50 l1.50,1.50 l-1.50,1.50 Z M604.27,267.60 l1.50,-1.50 l1.50,1.50 l-1.50,1.50 Z M610.37,267.60 l1.50,-1.50 l1.50,1.50 l-1.50,1.50 Z"/></g>
<g clip-path="url(#c13)"><path d="M509.00,383.00 L637.00,255.00 M509.00,400.00 L637.00,272.00 M509.00,417.00 L637.00,289.00 M509.00,434.00 L637.00,306.00 M509.00,451.00 L637.00,323.00 M509.00,468.00 L637.00,340.00 M509.00,485.00 L637.00,357.00 M509.00,502.00 L637.00,374.00 M509.00,519.00 L637.00,391.00 M509.00,536.00 L637.00,408.00 M509.00,553.00 L637.00,425.00 M509.00,570.00 L637.00,442.00 M509.00,587.00 L637.00,459.00 M509.00,604.00 L637.00,476.00 M509.00,621.00 L637.00,493.00 M509.00,638.00 L637.00,510.00 M509.00,655.00 L637.00,527.00 M509.00,672.00 L637.00,544.00 M509.00,689.00 L637.00,561.00 M509.00,706.00 L637.00,578.00 M509.00,723.00 L637.00,595.00" stroke="#000" stroke-width="1.70" fill="none"/></g>
<path d="M535.3,392.2 L520.5,392.2 Q516.2,392.6 516.2,397 L516.2,441.9 L523.5,449.4 L523.5,532.5 L511.7,532.5 L511.7,554.5 L523,575.5 L623,575.5 L634.3,554.5 L634.3,532.5 L622.5,532.5 L622.5,449.4 L629.8,441.9 L629.8,397 Q629.8,392.6 625.5,392.2 L610.7,392.2 L610.7,436.6 L604,445.6 L604,552.5 L573,560 L542,552.5 L542,445.6 L535.3,436.6 Z" fill="none" stroke="#000" stroke-width="2.40" stroke-linejoin="round"/>
<path d="M535.3,436.6 L535.3,542.5 L610.7,542.5 L610.7,436.6" fill="none" stroke="#000" stroke-width="1.90" stroke-linejoin="round" />
<path d="M542,552.5 L604,552.5" fill="none" stroke="#000" stroke-width="1.90" stroke-linejoin="round" />
<g clip-path="url(#c14)"><path d="M340.00,365.50 L510.00,195.50 M340.00,382.50 L510.00,212.50 M340.00,399.50 L510.00,229.50 M340.00,416.50 L510.00,246.50 M340.00,433.50 L510.00,263.50 M340.00,450.50 L510.00,280.50 M340.00,467.50 L510.00,297.50 M340.00,484.50 L510.00,314.50 M340.00,501.50 L510.00,331.50 M340.00,518.50 L510.00,348.50 M340.00,535.50 L510.00,365.50 M340.00,552.50 L510.00,382.50 M340.00,569.50 L510.00,399.50 M340.00,586.50 L510.00,416.50 M340.00,603.50 L510.00,433.50 M340.00,620.50 L510.00,450.50 M340.00,637.50 L510.00,467.50" stroke="#000" stroke-width="1.70" fill="none"/></g>
<path d="M342.50,392.70 L415.50,392.70 L415.00,384.40 L431.50,431.40 L467.30,431.40 L467.30,355.00 L470.00,351.80 L483.40,351.80 L483.40,369.50 L488.30,374.00 L488.30,427.00 L495.50,427.00 L495.50,436.20 L507.50,436.20 L507.50,459.80 L420.50,459.80 L419.50,458.40 L403.80,416.00 L371.00,415.60 L342.50,403.30 Z" fill="none" stroke="#000" stroke-width="2.40" stroke-linejoin="round"/>
<g clip-path="url(#c15)"><path d="M340.00,550.05 L519.00,371.05 M340.00,567.05 L519.00,388.05 M340.00,584.05 L519.00,405.05 M340.00,601.05 L519.00,422.05 M340.00,618.05 L519.00,439.05 M340.00,635.05 L519.00,456.05 M340.00,652.05 L519.00,473.05 M340.00,669.05 L519.00,490.05 M340.00,686.05 L519.00,507.05 M340.00,703.05 L519.00,524.05 M340.00,720.05 L519.00,541.05 M340.00,737.05 L519.00,558.05 M340.00,754.05 L519.00,575.05 M340.00,771.05 L519.00,592.05 M340.00,788.05 L519.00,609.05 M340.00,805.05 L519.00,626.05 M340.00,822.05 L519.00,643.05 M340.00,839.05 L519.00,660.05 M340.00,856.05 L519.00,677.05 M340.00,873.05 L519.00,694.05 M340.00,890.05 L519.00,711.05 M340.00,907.05 L519.00,728.05" stroke="#000" stroke-width="1.70" fill="none"/></g>
<path d="M419.50,555.60 L420.50,554.20 L507.50,554.20 L507.50,563.00 L514.00,563.00 L516.50,567.00 L516.80,587.00 L484.50,605.80 L484.50,713.80 L455.80,713.80 L455.80,611.00 L457.60,611.00 L457.60,583.00 L432.00,583.00 L431.50,582.60 L415.50,629.40 L404.10,629.40 L398.90,621.85 L342.50,621.85 L342.50,610.70 L371.00,598.40 L403.80,598.00 Z" fill="none" stroke="#000" stroke-width="2.40" stroke-linejoin="round"/>
<g clip-path="url(#c16)"><path d="M627.00,347.80 L693.00,281.80 M627.00,364.80 L693.00,298.80 M627.00,381.80 L693.00,315.80 M627.00,398.80 L693.00,332.80 M627.00,415.80 L693.00,349.80 M627.00,432.80 L693.00,366.80 M627.00,449.80 L693.00,383.80 M627.00,466.80 L693.00,400.80 M627.00,483.80 L693.00,417.80 M627.00,500.80 L693.00,434.80 M627.00,517.80 L693.00,451.80 M627.00,534.80 L693.00,468.80 M627.00,551.80 L693.00,485.80 M627.00,568.80 L693.00,502.80 M627.00,585.80 L693.00,519.80 M627.00,602.80 L693.00,536.80 M627.00,619.80 L693.00,553.80 M627.00,636.80 L693.00,570.80 M627.00,653.80 L693.00,587.80 M627.00,670.80 L693.00,604.80 M627.00,687.80 L693.00,621.80 M627.00,704.80 L693.00,638.80 M627.00,721.80 L693.00,655.80 M627.00,738.80 L693.00,672.80 M627.00,755.80 L693.00,689.80 M627.00,772.80 L693.00,706.80 M627.00,789.80 L693.00,723.80" stroke="#000" stroke-width="1.70" fill="none"/></g>
<path d="M661.90,713.80 L661.90,605.80 L630.00,587.00 L629.50,563.00 L638.70,563.00 L638.70,436.20 L650.50,436.20 L650.50,427.00 L657.70,427.00 L657.70,374.00 L662.60,369.50 L662.60,351.80 L676.00,351.80 L678.70,355.00 L678.70,437.30 L660.50,450.30 L660.00,563.70 L687.50,578.70 L688.00,611.00 L690.30,612.50 L690.30,713.80 Z" fill="none" stroke="#000" stroke-width="2.40" stroke-linejoin="round"/>
<path d="M484.5,605.8 L661.9,605.8 M484.5,705.5 L661.9,705.5 M455.8,713.8 L690.3,713.8 M516.8,587 L630,587" fill="none" stroke="#000" stroke-width="2.40" stroke-linejoin="round" />
<path d="M474.4,614.9 L671.6,614.9" fill="none" stroke="#000" stroke-width="2.00" stroke-linejoin="round" />
<path d="M474.4,614.4 L474.4,713.8 L484.5,705.5" fill="none" stroke="#000" stroke-width="1.80" stroke-linejoin="round" />
<path d="M474.4,614.4 L474.4,713.8 L484.5,705.5" transform="translate(1146.00,0) scale(-1,1)" fill="none" stroke="#000" stroke-width="1.80" stroke-linejoin="round" />
<path d="M516.8,565.6 L516.8,587" fill="none" stroke="#000" stroke-width="2.40" stroke-linejoin="round" />
<path d="M516.8,565.6 L516.8,587" transform="translate(1146.00,0) scale(-1,1)" fill="none" stroke="#000" stroke-width="2.40" stroke-linejoin="round" />
<path d="M371,415.6 L371,598.4 M403.5,416 L403.5,598 M419.5,458.4 L419.5,555.6" fill="none" stroke="#000" stroke-width="2.40" stroke-linejoin="round" />
<g clip-path="url(#c17)"><path d="M278.00,343.30 L418.00,203.30 M278.00,360.30 L418.00,220.30 M278.00,377.30 L418.00,237.30 M278.00,394.30 L418.00,254.30 M278.00,411.30 L418.00,271.30 M278.00,428.30 L418.00,288.30 M278.00,445.30 L418.00,305.30 M278.00,462.30 L418.00,322.30 M278.00,479.30 L418.00,339.30 M278.00,496.30 L418.00,356.30 M278.00,513.30 L418.00,373.30 M278.00,530.30 L418.00,390.30 M278.00,547.30 L418.00,407.30 M278.00,564.30 L418.00,424.30" stroke="#000" stroke-width="1.70" fill="none"/></g>
<path d="M280.00,405.60 L280.00,366.00 L290.70,347.00 L395.30,347.00 L408.20,366.00 L408.20,384.40 L415.00,384.40 L415.50,391.50 L303.40,391.50 L303.00,405.60 Z" fill="none" stroke="#000" stroke-width="2.40" stroke-linejoin="round"/>
<path d="M312.7,391.5 L312.7,384.4 L415,384.4" fill="none" stroke="#000" stroke-width="1.80" stroke-linejoin="round" />
<g clip-path="url(#c18)"><path d="M278.00,598.30 L411.00,465.30 M278.00,615.30 L411.00,482.30 M278.00,632.30 L411.00,499.30 M278.00,649.30 L411.00,516.30 M278.00,666.30 L411.00,533.30 M278.00,683.30 L411.00,550.30 M278.00,700.30 L411.00,567.30 M278.00,717.30 L411.00,584.30 M278.00,734.30 L411.00,601.30 M278.00,751.30 L411.00,618.30 M278.00,768.30 L411.00,635.30 M278.00,785.30 L411.00,652.30 M278.00,802.30 L411.00,669.30" stroke="#000" stroke-width="1.70" fill="none"/></g>
<path d="M280.00,608.40 L280.00,648.00 L290.70,667.00 L396.50,667.00 L408.80,647.00 L408.80,629.40 L404.10,629.40 L398.90,621.85 L303.40,621.85 L303.00,608.40 Z" fill="none" stroke="#000" stroke-width="2.40" stroke-linejoin="round"/>
<path d="M313.1,621.85 L313.1,629.4 L415.5,629.4" fill="none" stroke="#000" stroke-width="1.80" stroke-linejoin="round" />
<path d="M341.1,609.25 Q341.5,621 350.75,629.4" fill="none" stroke="#000" stroke-width="2.40" stroke-linejoin="round" />
<g clip-path="url(#c19)"><path d="M71.00,381.40 L368.00,84.40 M71.00,398.40 L368.00,101.40 M71.00,415.40 L368.00,118.40 M71.00,432.40 L368.00,135.40 M71.00,449.40 L368.00,152.40 M71.00,466.40 L368.00,169.40 M71.00,483.40 L368.00,186.40 M71.00,500.40 L368.00,203.40 M71.00,517.40 L368.00,220.40 M71.00,534.40 L368.00,237.40 M71.00,551.40 L368.00,254.40 M71.00,568.40 L368.00,271.40 M71.00,585.40 L368.00,288.40 M71.00,602.40 L368.00,305.40 M71.00,619.40 L368.00,322.40 M71.00,636.40 L368.00,339.40 M71.00,653.40 L368.00,356.40 M71.00,670.40 L368.00,373.40 M71.00,687.40 L368.00,390.40 M71.00,704.40 L368.00,407.40 M71.00,721.40 L368.00,424.40 M71.00,738.40 L368.00,441.40 M71.00,755.40 L368.00,458.40 M71.00,772.40 L368.00,475.40 M71.00,789.40 L368.00,492.40 M71.00,806.40 L368.00,509.40 M71.00,823.40 L368.00,526.40 M71.00,840.40 L368.00,543.40 M71.00,857.40 L368.00,560.40 M71.00,874.40 L368.00,577.40 M71.00,891.40 L368.00,594.40 M71.00,908.40 L368.00,611.40 M71.00,925.40 L368.00,628.40" stroke="#000" stroke-width="1.70" fill="none"/></g>
<path d="M73.00,420.60 L88.00,405.60 L302.30,405.60 L304.90,394.50 L320.60,394.50 L336.40,404.00 L336.40,421.60 L360.00,421.60 L360.00,417.30 L364.60,417.30 L365.00,437.40 L324.50,437.40 L324.50,446.30 L262.00,446.30 L262.00,436.60 L73.00,436.60 Z" fill="none" stroke="#000" stroke-width="2.40" stroke-linejoin="round"/>
<path d="M73.00,420.60 L88.00,405.60 L302.30,405.60 L304.90,394.50 L320.60,394.50 L336.40,404.00 L336.40,421.60 L360.00,421.60 L360.00,417.30 L364.60,417.30 L365.00,437.40 L324.50,437.40 L324.50,446.30 L262.00,446.30 L262.00,436.60 L73.00,436.60 Z" transform="translate(0,1014.00) scale(1,-1)" fill="none" stroke="#000" stroke-width="2.40" stroke-linejoin="round"/>
<path d="M73,418.4 L210,418.4" fill="none" stroke="#000" stroke-width="1.10" stroke-linejoin="round" />
<path d="M73,418.4 L210,418.4" transform="translate(0,1014.00) scale(1,-1)" fill="none" stroke="#000" stroke-width="1.10" stroke-linejoin="round" />
<path d="M210,418.4 L210,405.6" fill="none" stroke="#000" stroke-width="1.80" stroke-linejoin="round" />
<path d="M210,418.4 L210,405.6" transform="translate(0,1014.00) scale(1,-1)" fill="none" stroke="#000" stroke-width="1.80" stroke-linejoin="round" />
<path d="M74.7,437 L74.7,577" fill="none" stroke="#000" stroke-width="4.20" stroke-linejoin="round" />
<path d="M262,446.5 L262,567.5 M324.5,437.4 L324.5,576.6 M365,437.4 L365,576.6" fill="none" stroke="#000" stroke-width="2.40" stroke-linejoin="round" />
<path d="M262,465 L324.5,465" fill="none" stroke="#000" stroke-width="2.40" stroke-linejoin="round" />
<path d="M262,465 L324.5,465" transform="translate(0,1014.00) scale(1,-1)" fill="none" stroke="#000" stroke-width="2.40" stroke-linejoin="round" />
<g clip-path="url(#c20)"><path d="M336.00,399.20 L360.00,375.20 M336.00,407.00 L360.00,383.00 M336.00,414.80 L360.00,390.80 M336.00,422.60 L360.00,398.60 M336.00,430.40 L360.00,406.40 M336.00,438.20 L360.00,414.20 M336.00,446.00 L360.00,422.00 M336.00,453.80 L360.00,429.80 M336.00,461.60 L360.00,437.60 M336.00,469.40 L360.00,445.40 M336.00,477.20 L360.00,453.20 M336.00,485.00 L360.00,461.00 M336.00,492.80 L360.00,468.80 M336.00,500.60 L360.00,476.60 M336.00,508.40 L360.00,484.40 M336.00,516.20 L360.00,492.20 M336.00,524.00 L360.00,500.00 M336.00,531.80 L360.00,507.80 M336.00,539.60 L360.00,515.60 M336.00,547.40 L360.00,523.40 M336.00,555.20 L360.00,531.20 M336.00,563.00 L360.00,539.00 M336.00,570.80 L360.00,546.80 M336.00,578.60 L360.00,554.60 M336.00,586.40 L360.00,562.40 M336.00,594.20 L360.00,570.20 M336.00,602.00 L360.00,578.00 M336.00,609.80 L360.00,585.80 M336.00,617.60 L360.00,593.60 M336.00,625.40 L360.00,601.40 M336.00,633.20 L360.00,609.20 M336.00,641.00 L360.00,617.00 M336.00,613.80 L360.00,637.80 M336.00,606.00 L360.00,630.00 M336.00,598.20 L360.00,622.20 M336.00,590.40 L360.00,614.40 M336.00,582.60 L360.00,606.60 M336.00,574.80 L360.00,598.80 M336.00,567.00 L360.00,591.00 M336.00,559.20 L360.00,583.20 M336.00,551.40 L360.00,575.40 M336.00,543.60 L360.00,567.60 M336.00,535.80 L360.00,559.80 M336.00,528.00 L360.00,552.00 M336.00,520.20 L360.00,544.20 M336.00,512.40 L360.00,536.40 M336.00,504.60 L360.00,528.60 M336.00,496.80 L360.00,520.80 M336.00,489.00 L360.00,513.00 M336.00,481.20 L360.00,505.20 M336.00,473.40 L360.00,497.40 M336.00,465.60 L360.00,489.60 M336.00,457.80 L360.00,481.80 M336.00,450.00 L360.00,474.00 M336.00,442.20 L360.00,466.20 M336.00,434.40 L360.00,458.40 M336.00,426.60 L360.00,450.60 M336.00,418.80 L360.00,442.80 M336.00,411.00 L360.00,435.00 M336.00,403.20 L360.00,427.20 M336.00,395.40 L360.00,419.40 M336.00,387.60 L360.00,411.60 M336.00,379.80 L360.00,403.80 M336.00,372.00 L360.00,396.00" stroke="#000" stroke-width="1.50" fill="none"/></g>
<path d="M338.3,413.5 a9.5,8.2 0 1,0 19,0 a9.5,8.2 0 1,0 -19,0 Z" fill="none" stroke="#000" stroke-width="2.20" stroke-linejoin="round"/>
<path d="M338.3,413.5 a9.5,8.2 0 1,0 19,0 a9.5,8.2 0 1,0 -19,0 Z" transform="translate(0,1014.00) scale(1,-1)" fill="none" stroke="#000" stroke-width="2.20" stroke-linejoin="round"/>
<path d="M573,37 L573,95 M573,124.5 L573,129.5 M573,156 L573,270 M573,299 L573,304 M573,330 L573,446 M573,471.5 L573,477.5 M573,505.5 L573,618 M573,646 L573,650.5 M573,679 L573,716.5 M573,724 L573,762" fill="none" stroke="#505050" stroke-width="0.90" stroke-linejoin="round" />
<path d="M60,507 L202.5,507 M230.6,507 L235.5,507 M262.5,507 L376.4,507 M405,507 L410,507 M437.5,507 L580.5,507" fill="none" stroke="#505050" stroke-width="0.90" stroke-linejoin="round" />
<path d="M22.5,418.6 L73,418.6 M22.5,595.4 L73,595.4 M38.2,418.6 L38.2,595.4" fill="none" stroke="#505050" stroke-width="0.90" stroke-linejoin="round" />
<path d="M38.20,418.60 L42.40,441.60 L34.00,441.60 Z" fill="#000"/>
<path d="M38.20,595.40 L34.00,572.40 L42.40,572.40 Z" fill="#000"/>
<path d="M73.2,608 L73.2,762 M73.2,752.8 L573,752.8" fill="none" stroke="#505050" stroke-width="0.90" stroke-linejoin="round" />
<path d="M73.20,752.80 L96.20,748.60 L96.20,757.00 Z" fill="#000"/>
<path d="M573.00,752.80 L550.00,757.00 L550.00,748.60 Z" fill="#000"/>
<path d="M573,61.5 L784,61.5 M690,714.3 L784,714.3 M774.7,61.5 L774.7,714.3" fill="none" stroke="#505050" stroke-width="0.90" stroke-linejoin="round" />
<path d="M774.70,61.50 L778.90,84.50 L770.50,84.50 Z" fill="#000"/>
<path d="M774.70,714.30 L770.50,691.30 L778.90,691.30 Z" fill="#000"/>
<path d="M318.4,748.9 L330.2,726.4 M331.9,726.4 L334.3,748.9 M329.3,727.2 L333,727.2 M322.6,740.6 L333.4,740.6" fill="none" stroke="#111" stroke-width="2.20" stroke-linejoin="round" stroke-linecap="butt"/>
<path d="M10.3,497.9 C8.6,501 8.6,506.5 12.4,510.9 C15,514 18,515.8 20.6,515.8 C24,515.8 26,515.3 27.5,514.4 C30,512.8 31.3,510.5 31.6,508.9 C32.2,506 32,503.5 31.3,501.9 L20.6,499.6 L20.6,505.6" fill="none" stroke="#111" stroke-width="2.20" stroke-linejoin="round" />
<path d="M746,394.9 C745.3,390.4 746.3,385.6 750.1,384.9 C754.3,384.6 755.6,388.4 756.2,397.1 C756,391.1 757.7,386.7 761.8,386.5 C765.9,386.7 768.7,391.1 768,399.7 Z" fill="none" stroke="#111" stroke-width="2.20" stroke-linejoin="round" />
</svg>
</body></html>
